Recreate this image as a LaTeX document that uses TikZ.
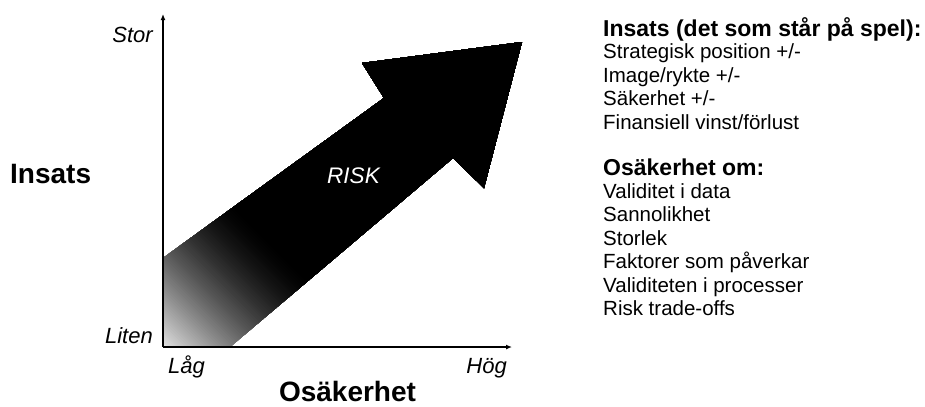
\documentclass[tikz,border=0pt]{standalone}
\usepackage{fontspec}
\setmainfont{Liberation Sans}
\usetikzlibrary{arrows.meta}

\begin{document}
\begin{tikzpicture}[x=1bp, y=-1bp,
  axisline/.style={line width=1.5bp, -{Latex[length=6bp,width=5bp]}},
  bigbold/.style={inner sep=0pt, font=\fontsize{28bp}{32bp}\selectfont\bfseries},
  axislabel/.style={inner sep=0pt, font=\fontsize{22bp}{25bp}\selectfont\itshape},
  listhead/.style={inner sep=0pt, anchor=base west, font=\fontsize{23bp}{26bp}\selectfont\bfseries},
  listitem/.style={inner sep=0pt, anchor=base west, font=\fontsize{20.5bp}{24bp}\selectfont},
  risklabel/.style={inner sep=0pt, text=white, font=\fontsize{22.5bp}{26bp}\selectfont\itshape}]

\useasboundingbox (0,0) rectangle (925,406);

% axes and corners of the risk arrow
\coordinate (O) at (163,347);
\coordinate (ytop) at (163,14);
\coordinate (xend) at (512,347);
\coordinate (A) at (163,258);
\coordinate (B) at (384,98);
\coordinate (C) at (362,63);
\coordinate (D) at (522,42);
\coordinate (E) at (484,188);
\coordinate (F) at (453,158);
\coordinate (G) at (230,347);

% the RISK arrow: black body, fading to light grey at the origin
\begin{scope}
  \clip (O) -- (A) -- (B) -- (C) -- (D) -- (E) -- (F) -- (G) -- cycle;
  \begin{scope}[shift={(O)}, rotate=45]
    \foreach \i in {-4,...,75} {
      \pgfmathsetmacro{\u}{2*\i}
      \pgfmathsetmacro{\t}{max(0,min(1,\u/150))}
      \pgfmathsetmacro{\g}{12+88*(1-(1-\t)^1.5)}
      \fill[black!\g] (\u,-400) rectangle (600,400);
    }
  \end{scope}
\end{scope}

\node[risklabel, anchor=base] (risk) at (353.5,183) {RISK};

% axes
\draw[axisline] (O) -- (ytop);
\draw[axisline] (O) -- (xend);

% axis labels
\node[axislabel, anchor=base east] (stor) at (153,42) {Stor};
\node[axislabel, anchor=base east] (liten) at (153,343) {Liten};
\node[axislabel, anchor=base west] (lag) at (168,373) {Låg};
\node[axislabel, anchor=base east] (hog) at (507,373) {Hög};
\node[bigbold, anchor=base west] (insats) at (10,183) {Insats};
\node[bigbold, anchor=base] (osak) at (347.5,401) {Osäkerhet};

% right-hand lists
\node[listhead] (h1) at (603,36) {Insats (det som står på spel):};
\node[listitem] (a1) at (603,58.5) {Strategisk position +/-};
\node[listitem] (a2) at (603,82) {Image/rykte +/-};
\node[listitem] (a3) at (603,105.5) {Säkerhet +/-};
\node[listitem] (a4) at (603,129) {Finansiell vinst/förlust};

\node[listhead] (h2) at (603,175) {Osäkerhet om:};
\node[listitem] (b1) at (603,198) {Validitet i data};
\node[listitem] (b2) at (603,221.5) {Sannolikhet};
\node[listitem] (b3) at (603,245) {Storlek};
\node[listitem] (b4) at (603,268.5) {Faktorer som påverkar};
\node[listitem] (b5) at (603,292) {Validiteten i processer};
\node[listitem] (b6) at (603,315.5) {Risk trade-offs};
\end{tikzpicture}
\end{document}
